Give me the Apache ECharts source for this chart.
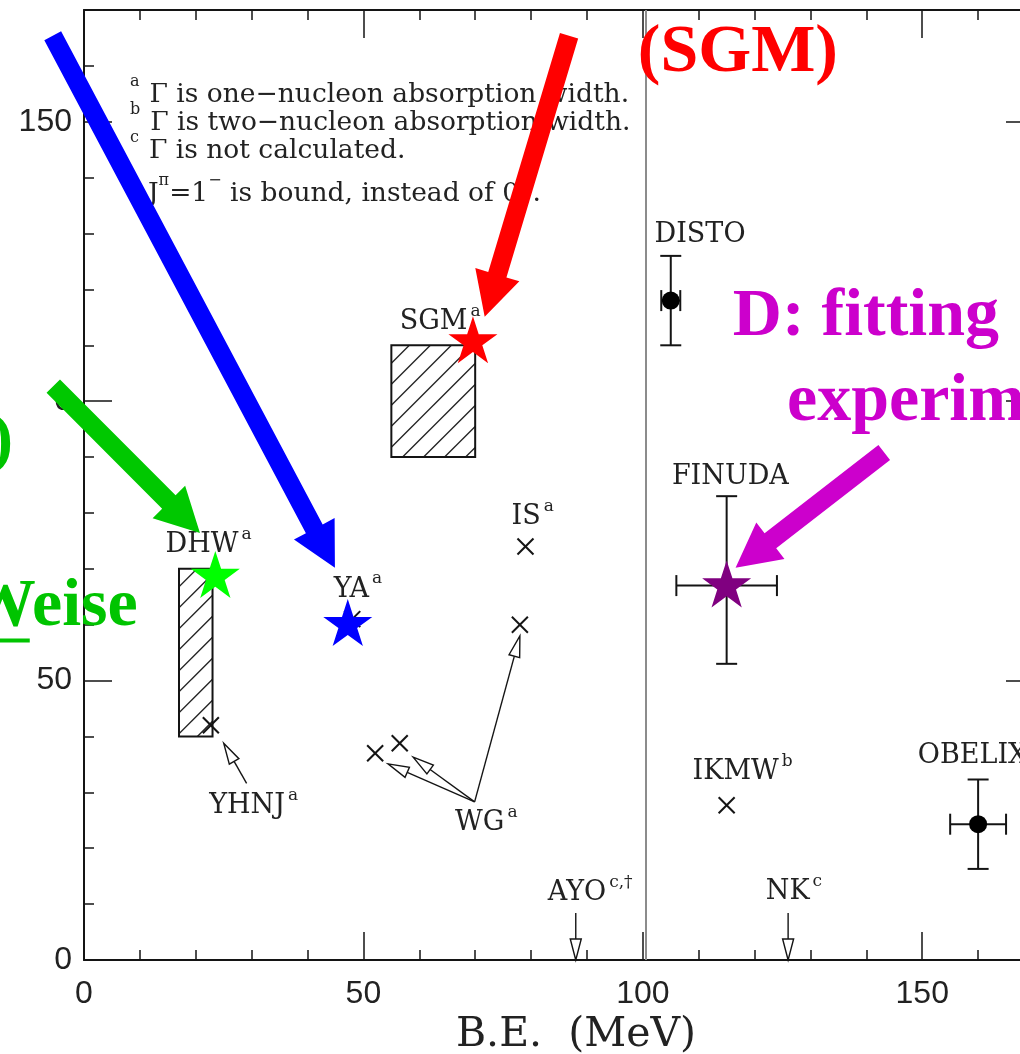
<!DOCTYPE html>
<html><head><meta charset="utf-8">
<script src="https://cdn.jsdelivr.net/npm/echarts@6/dist/echarts.min.js"></script>
<style>html,body{margin:0;padding:0;background:#fff}#c{width:1020px;height:1054px}</style>
</head><body><div id="c"></div>
<script>
// ---------- axes ----------
const X_MIN = 0, X_MAX = 170, Y_MIN = 0, Y_MAX = 170;
const xTickValues = [0, 50, 100, 150];
const yTickValues = [0, 50, 100, 150];
const xAxisName = 'B.E.  (MeV)';

// ---------- data ----------
const boxNames = ['SGM', 'DHW'];
const boxBE = [[55, 70], [17, 23]];
const boxGamma = [[90, 110], [40, 70]];

const crossNames = ['IS', 'WG', 'WG', 'WG', 'YHNJ', 'IKMW', 'YA'];
const crossBE = [79, 78, 52.1, 56.5, 22.7, 115, 48];
const crossGamma = [74, 60, 37, 38.8, 42, 27.7, 61];

const expNames = ['DISTO', 'FINUDA', 'OBELIX'];
const expBE = [105, 115, 160];
const expBELow = [103.3, 106, 155];
const expBEHigh = [106.7, 124, 165];
const expGamma = [118, 67, 24.3];
const expGammaLow = [110, 53, 16.3];
const expGammaHigh = [126, 83, 32.3];
const expDot = [1, 0, 1];

const starNames = ['SGM', 'DHW', 'YA', 'FINUDA'];
const starBE = [69.6, 23.5, 47.2, 115];
const starGamma = [111, 69, 60.4, 67.3];
const starColors = ['#ff0000', '#00ff00', '#0000ff', '#800080'];

const separatorBE = 100.6;

const labelMain = ['SGM', 'DHW', 'YA', 'IS', 'DISTO', 'FINUDA', 'IKMW', 'OBELIX', 'NK', 'AYO', 'YHNJ', 'WG'];
const labelSup = ['a', 'a', 'a', 'a', '', '', 'b', '', 'c', 'c,†', 'a', 'a'];
const labelBE = [56.5, 14.6, 44.7, 76.5, 102.1, 105.2, 108.9, 149.2, 122.0, 83.0, 22.4, 66.4];
const labelGamma = [114.2, 74.2, 66.3, 79.2, 129.7, 86.5, 33.6, 36.5, 12.1, 12.0, 27.6, 24.5];

const pointerFrom = [[29.1, 31.6], [69.9, 28.3], [69.9, 28.3], [69.9, 28.3], [88, 8.4], [126, 8.4]];
const pointerTo = [[25.0, 38.8], [54.4, 35.1], [58.9, 36.3], [78.0, 58.0], [88, 0], [126, 0]];

const legendSup = ['a', 'b', 'c'];
const legendLines = ['Γ is one−nucleon absorption width.', 'Γ is two−nucleon absorption width.', 'Γ is not calculated.'];
const legendLast = '{s|†}{m|J}{t|π}{m|=1}{t|−}{m| is bound, instead of 0}{t|−}{m|.}';

// overlay annotations (in data coordinates)
const noteTexts = ['(SGM)', 'D: fitting', 'experiments', 'Weise', '(DHW)'];
const noteColors = ['#ff0000', '#cc00cc', '#cc00cc', '#00c400', '#00c400'];
const noteAnchor = [[99.1, 162.3], [116.1, 115.0], [125.8, 99.8], [-20.8, 63.1], [-12.7, 92.6]];
const noteAlign = ['left', 'left', 'left', 'left', 'right'];
const arrowColors = ['#0000ff', '#00c800', '#ff0000', '#cc00cc'];
const arrowFrom = [[-5.6, 165.4], [-5.5, 102.7], [86.8, 165.4], [143.2, 90.8]];
const arrowTo = [[44.9, 70.2], [20.75, 76.4], [71.7, 115.1], [116.6, 70.2]];

// ---------- helpers ----------
function starPath() {
  const pts = [];
  for (let k = 0; k < 10; k++) {
    const r = k % 2 === 0 ? 50 : 19.1;
    const a = -Math.PI / 2 + k * Math.PI / 5;
    pts.push((50 + r * Math.cos(a)).toFixed(2) + ',' + (50 + r * Math.sin(a)).toFixed(2));
  }
  return 'path://M' + pts.join('L') + 'Z';
}
const INK = '#141414';
function xAx(pos, major) {
  return {
    type: 'value', min: X_MIN, max: X_MAX, interval: major ? 50 : 10, position: pos,
    axisLine: { show: !major, onZero: false, lineStyle: { color: INK, width: 2 } },
    axisTick: { show: true, inside: true, length: major ? 28 : 10, lineStyle: { color: INK, width: 1.5 } },
    axisLabel: {
      show: major && pos === 'bottom', margin: 18, color: '#222', fontFamily: 'Liberation Sans', fontSize: 32,
      formatter: v => xTickValues.includes(v) ? String(v) : ''
    },
    splitLine: { show: false }, minorTick: { show: false },
    name: major && pos === 'bottom' ? xAxisName : '',
    nameLocation: 'middle', nameGap: 54,
    nameTextStyle: { fontFamily: 'DejaVu Serif', fontSize: 41, color: '#222', padding: [0, 0, 0, 34] }
  };
}
function yAx(pos, major) {
  return {
    type: 'value', min: Y_MIN, max: Y_MAX, interval: major ? 50 : 10, position: pos,
    axisLine: { show: !major, onZero: false, lineStyle: { color: INK, width: 2 } },
    axisTick: { show: true, inside: true, length: major ? 28 : 10, lineStyle: { color: INK, width: 1.5 } },
    axisLabel: {
      show: major && pos === 'left', margin: 12, color: '#222', fontFamily: 'Liberation Sans', fontSize: 32,
      formatter: v => yTickValues.includes(v) ? String(v) : ''
    },
    splitLine: { show: false }, minorTick: { show: false }
  };
}

const chart = echarts.init(document.getElementById('c'), null, { renderer: 'canvas' });

const option = {
  animation: false,
  backgroundColor: '#fff',
  grid: { left: 84, right: -14, top: 10, bottom: 94, containLabel: false, outerBoundsMode: 'none' },
  xAxis: [xAx('bottom', false), xAx('bottom', true), xAx('top', false), xAx('top', true)],
  yAxis: [yAx('left', false), yAx('left', true), yAx('right', false), yAx('right', true)],
  series: [
    { // hatched boxes
      type: 'custom', name: 'boxes', xAxisIndex: 1, yAxisIndex: 1, z: 2,
      data: boxBE.map((b, i) => [b[0], b[1], boxGamma[i][0], boxGamma[i][1]]),
      encode: { x: [0, 1], y: [2, 3] },
      renderItem(params, api) {
        const p0 = api.coord([api.value(0), api.value(3)]);
        const p1 = api.coord([api.value(1), api.value(2)]);
        const x0 = p0[0], y0 = p0[1], x1 = p1[0], y1 = p1[1];
        const ch = [];
        for (let c = x0 + y0 + 18; c < x1 + y1; c += 21) {
          const xa = Math.max(x0, c - y1), xb = Math.min(x1, c - y0);
          if (xb > xa) ch.push({ type: 'line', shape: { x1: xa, y1: c - xa, x2: xb, y2: c - xb }, style: { stroke: '#222', lineWidth: 1.3 } });
        }
        ch.push({ type: 'rect', shape: { x: x0, y: y0, width: x1 - x0, height: y1 - y0 }, style: { fill: 'none', stroke: INK, lineWidth: 2 } });
        return { type: 'group', children: ch };
      }
    },
    { // crosses
      type: 'custom', name: 'crosses', xAxisIndex: 1, yAxisIndex: 1, z: 3,
      data: crossBE.map((x, i) => [x, crossGamma[i]]),
      encode: { x: 0, y: 1 },
      renderItem(params, api) {
        const p = api.coord([api.value(0), api.value(1)]);
        const s = 8;
        const st = { stroke: INK, lineWidth: 2 };
        return { type: 'group', children: [
          { type: 'line', shape: { x1: p[0] - s, y1: p[1] - s, x2: p[0] + s, y2: p[1] + s }, style: st },
          { type: 'line', shape: { x1: p[0] - s, y1: p[1] + s, x2: p[0] + s, y2: p[1] - s }, style: st }
        ] };
      }
    },
    { // experiments with error bars
      type: 'custom', name: 'experiments', xAxisIndex: 1, yAxisIndex: 1, z: 3,
      data: expBE.map((x, i) => [x, expGamma[i], expBELow[i], expBEHigh[i], expGammaLow[i], expGammaHigh[i], expDot[i]]),
      encode: { x: [0, 2, 3], y: [1, 4, 5] },
      renderItem(params, api) {
        const c = api.coord([api.value(0), api.value(1)]);
        const xl = api.coord([api.value(2), api.value(1)])[0];
        const xh = api.coord([api.value(3), api.value(1)])[0];
        const yl = api.coord([api.value(0), api.value(4)])[1];
        const yh = api.coord([api.value(0), api.value(5)])[1];
        const st = { stroke: INK, lineWidth: 2 };
        const h = 10.5;
        const ch = [
          { type: 'line', shape: { x1: c[0], y1: yl, x2: c[0], y2: yh }, style: st },
          { type: 'line', shape: { x1: c[0] - h, y1: yl, x2: c[0] + h, y2: yl }, style: st },
          { type: 'line', shape: { x1: c[0] - h, y1: yh, x2: c[0] + h, y2: yh }, style: st },
          { type: 'line', shape: { x1: xl, y1: c[1], x2: xh, y2: c[1] }, style: st },
          { type: 'line', shape: { x1: xl, y1: c[1] - h, x2: xl, y2: c[1] + h }, style: st },
          { type: 'line', shape: { x1: xh, y1: c[1] - h, x2: xh, y2: c[1] + h }, style: st }
        ];
        if (api.value(6)) ch.push({ type: 'circle', shape: { cx: c[0], cy: c[1], r: 9 }, style: { fill: '#000' } });
        return { type: 'group', children: ch };
      }
    },
    { // labels
      type: 'custom', name: 'labels', xAxisIndex: 1, yAxisIndex: 1, z: 4,
      data: labelBE.map((x, i) => [x, labelGamma[i]]),
      encode: { x: 0, y: 1 },
      renderItem(params, api) {
        const i = params.dataIndex;
        const p = api.coord([api.value(0), api.value(1)]);
        const sup = labelSup[i] ? '{s|' + labelSup[i] + '}' : '';
        return { type: 'text', x: p[0], y: p[1], style: {
          text: '{m|' + labelMain[i] + '}' + sup,
          align: 'left', verticalAlign: 'middle',
          rich: {
            m: { fontFamily: 'DejaVu Serif', fontSize: 27, lineHeight: 38, fill: '#222' },
            s: { fontFamily: 'DejaVu Serif', fontSize: 17, lineHeight: 18, verticalAlign: 'top', fill: '#222', padding: [0, 0, 0, 3] }
          }
        } };
      }
    },
    { // thin pointer arrows
      type: 'custom', name: 'pointers', xAxisIndex: 1, yAxisIndex: 1, z: 3,
      data: pointerFrom.map((f, i) => [f[0], f[1], pointerTo[i][0], pointerTo[i][1]]),
      encode: { x: [0, 2], y: [1, 3] },
      renderItem(params, api) {
        const a = api.coord([api.value(0), api.value(1)]);
        const b = api.coord([api.value(2), api.value(3)]);
        const dx = b[0] - a[0], dy = b[1] - a[1], len = Math.hypot(dx, dy);
        const ux = dx / len, uy = dy / len, nx = -uy, ny = ux;
        const L = 21, H = 5.5;
        const bx = b[0] - ux * L, by = b[1] - uy * L;
        return { type: 'group', children: [
          { type: 'line', shape: { x1: a[0], y1: a[1], x2: bx, y2: by }, style: { stroke: INK, lineWidth: 1.4 } },
          { type: 'polygon', shape: { points: [[b[0], b[1]], [bx + nx * H, by + ny * H], [bx - nx * H, by - ny * H]] }, style: { fill: '#fff', stroke: INK, lineWidth: 1.4 } }
        ] };
      }
    },
    { // stars
      type: 'scatter', name: 'stars', xAxisIndex: 1, yAxisIndex: 1, z: 6,
      symbol: starPath(), symbolSize: [49, 47],
      itemStyle: { opacity: 1 },
      emphasis: { disabled: true },
      data: starBE.map((x, i) => ({ name: starNames[i], value: [x, starGamma[i]], itemStyle: { color: starColors[i], opacity: 1 } })),
      markLine: {
        silent: true, symbol: ['none', 'none'], label: { show: false }, animation: false,
        lineStyle: { color: '#8c8c8c', width: 2, type: 'solid', opacity: 1 },
        data: [{ xAxis: separatorBE }]
      }
    }
  ]
};
chart.setOption(option);

// ---------- overlays ----------
const P = d => chart.convertToPixel({ gridIndex: 0 }, d);
const g = [];
// legend block
const legendRich = {
  m: { fontFamily: 'DejaVu Serif', fontSize: 26.5, lineHeight: 42, fill: '#222' },
  s: { fontFamily: 'DejaVu Serif', fontSize: 16, lineHeight: 17, verticalAlign: 'top', fill: '#222', padding: [0, 10, 0, 0] },
  t: { fontFamily: 'DejaVu Serif', fontSize: 16, lineHeight: 17, verticalAlign: 'top', fill: '#222' }
};
const legendY = [95, 123, 151, 194];
legendLines.forEach((t, i) => {
  g.push({ type: 'text', x: 130, y: legendY[i], z: 1, style: { text: '{s|' + legendSup[i] + '}{m|' + t + '}', rich: legendRich, align: 'left', verticalAlign: 'middle' } });
});
g.push({ type: 'text', x: 130, y: legendY[3], z: 1, style: { text: legendLast, rich: legendRich, align: 'left', verticalAlign: 'middle' } });

// white box of the green note covering part of the tick label
const cv0 = P([-12.3, 102.7]), cv1 = P([-5.4, 96.6]);
g.push({ type: 'rect', z: 50, shape: { x: cv0[0], y: cv0[1], width: cv1[0] - cv0[0], height: cv1[1] - cv0[1] }, style: { fill: '#fff' } });

// big coloured arrows
arrowFrom.forEach((f, i) => {
  const a = P(f), b = P(arrowTo[i]);
  const dx = b[0] - a[0], dy = b[1] - a[1], len = Math.hypot(dx, dy);
  const ux = dx / len, uy = dy / len, nx = -uy, ny = ux;
  const L = 44, H = 23, w = 9.5;
  const bx = b[0] - ux * L, by = b[1] - uy * L;
  g.push({ type: 'polygon', z: 100, shape: { points: [
    [a[0] + nx * w, a[1] + ny * w], [bx + nx * w, by + ny * w], [bx + nx * H, by + ny * H], [b[0], b[1]],
    [bx - nx * H, by - ny * H], [bx - nx * w, by - ny * w], [a[0] - nx * w, a[1] - ny * w]
  ] }, style: { fill: arrowColors[i] } });
});
// big coloured notes
noteTexts.forEach((t, i) => {
  const p = P(noteAnchor[i]);
  g.push({ type: 'text', z: 100, x: p[0], y: p[1], style: {
    text: t, fill: noteColors[i], fontFamily: 'Liberation Serif', fontWeight: 'bold', fontSize: 68,
    align: noteAlign[i], verticalAlign: 'middle'
  } });
  if (t === 'Weise') {
    g.push({ type: 'rect', z: 100, shape: { x: p[0], y: p[1] + 31, width: 62, height: 4 }, style: { fill: noteColors[i] } });
  }
});
chart.setOption({ graphic: g });
</script></body></html>
